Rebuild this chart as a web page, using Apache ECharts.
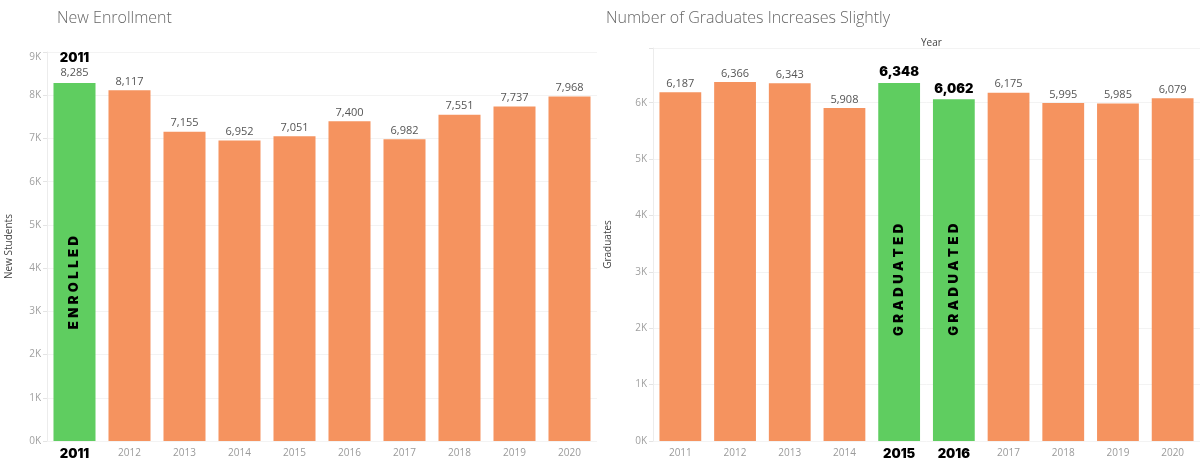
<!DOCTYPE html>
<html>
<head>
<meta charset="utf-8">
<script src="https://cdn.jsdelivr.net/npm/echarts@6/dist/echarts.min.js"></script>
<style>html,body{margin:0;padding:0;background:#fff}#c{width:1200px;height:461px}</style>
</head>
<body>
<div id="c"></div>
<script>
const years = ['2011','2012','2013','2014','2015','2016','2017','2018','2019','2020'];
const newStudents = [8285, 8117, 7155, 6952, 7051, 7400, 6982, 7551, 7737, 7968];
const graduates = [6187, 6366, 6343, 5908, 6348, 6062, 6175, 5995, 5985, 6079];
const enrollHighlight = ['2011'];
const gradHighlight = ['2015', '2016'];
const enrollTag = 'ENROLLED';
const gradTag = 'GRADUATED';
const leftTitle = 'New Enrollment';
const rightTitle = 'Number of Graduates Increases Slightly';
const leftAxisName = 'New Students';
const rightAxisName = 'Graduates';
const columnHeader = 'Year';

const ORANGE = '#F5935F';
const GREEN = '#5FCD60';
const FONT = '"Open Sans", "DejaVu Sans", sans-serif';
const HEAVY = 'Inter, "DejaVu Sans", sans-serif';
const fmt = v => v.toLocaleString('en-US');
const spaced = s => s.split('').join(' \u200A');

function xAxisFor(grid, hl) {
  return {
    type: 'category', gridIndex: grid, data: years,
    axisLine: { show: false }, axisTick: { show: false },
    axisLabel: {
      margin: 7, color: '#9a9a9a', fontSize: 10, fontFamily: FONT,
      formatter: v => hl.includes(v) ? '{h|' + v + '}' : v,
      rich: { h: { fontFamily: HEAVY, fontWeight: 900, fontSize: 13, color: '#000' } }
    }
  };
}
function yAxisFor(grid, max, name, gap) {
  return {
    type: 'value', gridIndex: grid, min: 0, max: max, interval: 1000,
    name: name, nameLocation: 'middle', nameGap: gap, nameRotate: 90,
    nameTextStyle: { color: '#444', fontSize: 10, fontFamily: FONT },
    axisLine: { show: true, lineStyle: { color: '#ececec' } },
    axisTick: { show: true, length: 4, lineStyle: { color: '#e4e4e4' } },
    splitLine: { show: true, lineStyle: { color: '#f3f3f3' } },
    axisLabel: {
      margin: 6, color: '#a0a0a0', fontSize: 10, fontFamily: FONT,
      verticalAlignMaxLabel: 'top',
      formatter: v => (v % 1000 === 0) ? (v / 1000) + 'K' : ''
    }
  };
}
function mainData(vals, hl, topLine) {
  return vals.map((v, i) => {
    const isH = hl.includes(years[i]);
    const item = { value: v, itemStyle: { color: isH ? GREEN : ORANGE } };
    if (isH) {
      item.label = {
        formatter: topLine ? '{h|' + years[i] + '}\n{v|' + fmt(v) + '}' : '{h|' + fmt(v) + '}'
      };
    }
    return item;
  });
}
function tagData(vals, hl, tag, pos) {
  return vals.map((v, i) => {
    const isH = hl.includes(years[i]);
    if (!isH) return { value: v, label: { show: false } };
    return { value: v, label: { show: true, formatter: spaced(tag), position: ['50%', pos[years[i]]] } };
  });
}
const labelBase = {
  show: true, position: 'top', distance: 3, color: '#555', fontSize: 11, fontFamily: FONT,
  formatter: p => fmt(p.value),
  rich: {
    h: { fontFamily: HEAVY, fontWeight: 900, fontSize: 13, color: '#000', lineHeight: 15 },
    v: { color: '#555', fontSize: 11, fontFamily: FONT, lineHeight: 14 }
  }
};
const tagLabel = {
  rotate: 90, align: 'center', verticalAlign: 'middle',
  fontFamily: HEAVY, fontWeight: 900, fontSize: 13, color: '#000'
};

const chart = echarts.init(document.getElementById('c'), null, { renderer: 'canvas' });
chart.setOption({
  animation: false,
  title: [
    { text: leftTitle, left: 52, top: 5, textStyle: { fontFamily: FONT, fontWeight: 300, fontSize: 16, color: '#666' } },
    { text: rightTitle, left: 601, top: 5, textStyle: { fontFamily: FONT, fontWeight: 300, fontSize: 16, color: '#666' } },
    { text: columnHeader, left: 916, top: 33, textStyle: { fontFamily: FONT, fontWeight: 'normal', fontSize: 10, color: '#444' } }
  ],
  grid: [
    { left: 47, top: 52, width: 550, height: 390 },
    { left: 653, top: 48, width: 550, height: 395 }
  ],
  xAxis: [xAxisFor(0, enrollHighlight), xAxisFor(1, gradHighlight)],
  yAxis: [yAxisFor(0, 9000, leftAxisName, 33), yAxisFor(1, 6970, rightAxisName, 40)],
  series: [
    { type: 'bar', xAxisIndex: 0, yAxisIndex: 0, barCategoryGap: '23.6%', barGap: '-100%',
      data: mainData(newStudents, enrollHighlight, true), label: labelBase },
    { type: 'bar', xAxisIndex: 0, yAxisIndex: 0, barCategoryGap: '23.6%', barGap: '-100%', silent: true,
      itemStyle: { color: 'rgba(0,0,0,0)' }, label: tagLabel,
      data: tagData(newStudents, enrollHighlight, enrollTag, { '2011': '55.8%' }) },
    { type: 'bar', xAxisIndex: 1, yAxisIndex: 1, barCategoryGap: '23.6%', barGap: '-100%',
      data: mainData(graduates, gradHighlight, false), label: labelBase },
    { type: 'bar', xAxisIndex: 1, yAxisIndex: 1, barCategoryGap: '23.6%', barGap: '-100%', silent: true,
      itemStyle: { color: 'rgba(0,0,0,0)' }, label: tagLabel,
      data: tagData(graduates, gradHighlight, gradTag, { '2015': '55%', '2016': '52.8%' }) }
  ]
});
</script>
</body>
</html>
